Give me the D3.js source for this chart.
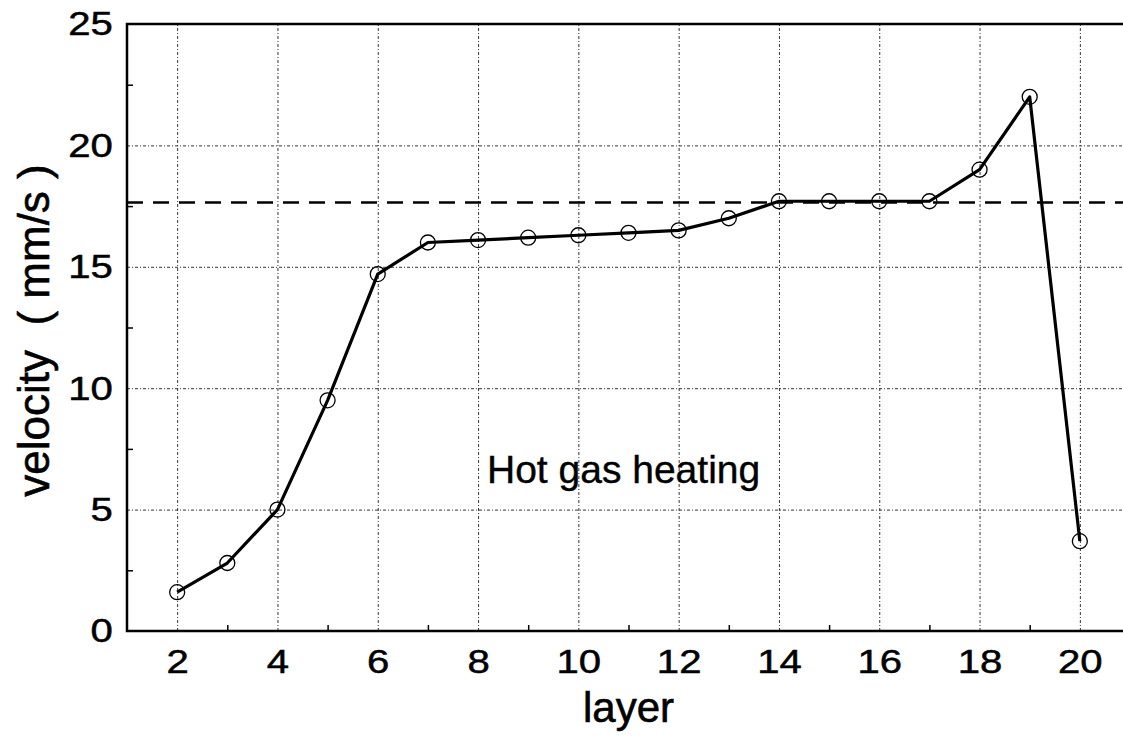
<!DOCTYPE html>
<html>
<head>
<meta charset="utf-8">
<script src="https://cdn.jsdelivr.net/npm/d3@7"></script>
<style>
  html, body { margin: 0; padding: 0; background: #fff; }
  svg { display: block; font-family: "Liberation Sans", Arial, Helvetica, sans-serif; }
</style>
</head>
<body>
<svg id="chart" width="1123" height="737"></svg>
<script>
// Front velocity per layer under hot gas heating
const layers = [2, 3, 4, 5, 6, 7, 8, 9, 10, 11, 12, 13, 14, 15, 16, 17, 18, 19, 20];
const velocity = [1.6, 2.8, 5.0, 9.5, 14.7, 16.0, 16.1, 16.2, 16.3, 16.4, 16.5, 17.0, 17.7, 17.7, 17.7, 17.7, 19.0, 22.0, 3.7];
const referenceVelocity = 17.65;

const xTicks = [2, 4, 6, 8, 10, 12, 14, 16, 18, 20];
const xMinorTicks = [3, 5, 7, 9, 11, 13, 15, 17, 19];
const yTicks = [0, 5, 10, 15, 20, 25];
const yMinorTicks = [2.5, 7.5, 12.5, 17.5, 22.5];

const svg = d3.select("#chart");

const x = d3.scaleLinear().domain([1, 21]).range([127, 1130]);
const y = d3.scaleLinear().domain([0, 25]).range([631, 24]);
const plotH = y(0) - y(25);
const plotW = x(21) - x(1);

// dotted grid
const gridStyle = g => {
  g.select(".domain").remove();
  g.selectAll(".tick line")
    .attr("stroke", "#333")
    .attr("stroke-width", 1)
    .attr("stroke-dasharray", "3,2,1,2");
};
svg.append("g")
  .attr("transform", `translate(0,${y(0)})`)
  .call(d3.axisBottom(x).tickValues(xTicks).tickSize(-plotH).tickFormat(""))
  .call(gridStyle);
svg.append("g")
  .attr("transform", `translate(${x(1)},0)`)
  .call(d3.axisLeft(y).tickValues(yTicks.filter(v => v > 0 && v < 25)).tickSize(-plotW).tickFormat(""))
  .call(gridStyle);

// minor ticks pointing inward
const minorStyle = g => {
  g.select(".domain").remove();
  g.selectAll(".tick line").attr("stroke", "#000").attr("stroke-width", 1.5);
};
svg.append("g")
  .attr("transform", `translate(0,${y(0)})`)
  .call(d3.axisBottom(x).tickValues(xMinorTicks).tickSize(-6).tickFormat(""))
  .call(minorStyle);
svg.append("g")
  .attr("transform", `translate(${x(1)},0)`)
  .call(d3.axisLeft(y).tickValues(yMinorTicks).tickSize(-6).tickFormat(""))
  .call(minorStyle);

// tick labels, slightly wide digits
const labelStyle = g => {
  g.select(".domain").remove();
  g.selectAll(".tick line").remove();
  g.selectAll(".tick text")
    .attr("fill", "#000")
    .attr("stroke", "#000")
    .attr("stroke-width", 0.5)
    .attr("font-size", 34)
    .attr("font-family", "'Liberation Sans', Arial, Helvetica, sans-serif")
    .attr("transform", "scale(1.18,1)");
};
svg.append("g")
  .attr("transform", `translate(0,${y(0)})`)
  .call(d3.axisBottom(x).tickValues(xTicks).tickSize(0).tickPadding(18).tickFormat(d3.format("d")))
  .call(labelStyle);
svg.append("g")
  .attr("transform", `translate(${x(1)},0)`)
  .call(d3.axisLeft(y).tickValues(yTicks).tickSize(0).tickPadding(12).tickFormat(d3.format("d")))
  .call(labelStyle);

// frame
svg.append("rect")
  .attr("x", x(1)).attr("y", y(25))
  .attr("width", plotW).attr("height", plotH)
  .attr("fill", "none").attr("stroke", "#000").attr("stroke-width", 2.5);

// reference level
svg.append("line")
  .attr("x1", x(1)).attr("x2", x(21))
  .attr("y1", y(referenceVelocity)).attr("y2", y(referenceVelocity))
  .attr("stroke", "#000").attr("stroke-width", 2.6)
  .attr("stroke-dasharray", "16,10");

// velocity curve
const points = layers.map((l, i) => ({ layer: l, v: velocity[i] }));
svg.append("path")
  .datum(points)
  .attr("fill", "none")
  .attr("stroke", "#000")
  .attr("stroke-width", 3.2)
  .attr("stroke-linejoin", "round")
  .attr("d", d3.line().x(d => x(d.layer)).y(d => y(d.v)));

svg.append("g").selectAll("circle")
  .data(points)
  .join("circle")
  .attr("cx", d => x(d.layer))
  .attr("cy", d => y(d.v))
  .attr("r", 7.5)
  .attr("fill", "none")
  .attr("stroke", "#000")
  .attr("stroke-width", 1.3);

// annotation
svg.append("text")
  .attr("x", 487).attr("y", 483)
  .attr("font-size", 39)
  .attr("fill", "#000")
  .attr("stroke", "#000")
  .attr("stroke-width", 0.4)
  .text("Hot gas heating");

// axis titles
svg.append("text")
  .attr("x", (x(1) + x(21)) / 2).attr("y", 722)
  .attr("text-anchor", "middle")
  .attr("font-size", 42)
  .attr("fill", "#000")
  .attr("stroke", "#000")
  .attr("stroke-width", 0.6)
  .text("layer");

svg.append("text")
  .attr("transform", `translate(49,${(y(0) + y(25)) / 2 + 3}) rotate(-90)`)
  .attr("text-anchor", "middle")
  .attr("font-size", 44)
  .attr("fill", "#000")
  .attr("stroke", "#000")
  .attr("stroke-width", 0.6)
  .style("white-space", "pre")
  .text("velocity  ( mm/s )");
</script>
</body>
</html>
